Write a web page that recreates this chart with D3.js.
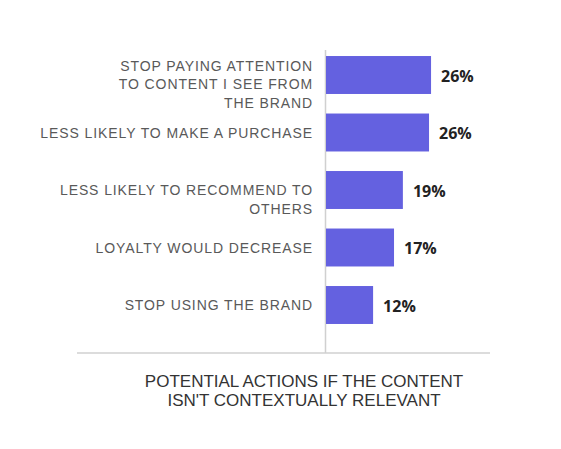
<!DOCTYPE html>
<html>
<head>
<meta charset="utf-8">
<script src="https://cdn.jsdelivr.net/npm/d3@7/dist/d3.min.js"></script>
<style>
  html, body { margin: 0; padding: 0; background: #fff; }
</style>
</head>
<body>
<div id="container"></div>
<script>
// Chart data
const categories = [
  "STOP PAYING ATTENTION\nTO CONTENT I SEE FROM\nTHE BRAND",
  "LESS LIKELY TO MAKE A PURCHASE",
  "LESS LIKELY TO RECOMMEND TO\nOTHERS",
  "LOYALTY WOULD DECREASE",
  "STOP USING THE BRAND"
];
const values = [26.1, 25.6, 19.1, 16.9, 11.7];
const valueLabels = ["26%", "26%", "19%", "17%", "12%"];
const titleLines = ["POTENTIAL ACTIONS IF THE CONTENT", "ISN'T CONTEXTUALLY RELEVANT"];

const width = 561;
const height = 449;
const barColor = "#6461e0";
const lineColor = "#d0d0d0";

const svg = d3.create("svg").attr("width", width).attr("height", height);

svg.append("rect").attr("width", width).attr("height", height).attr("fill", "#fff");

// Scales
const x = d3.scaleLinear().domain([0, 40]).range([326, 487]);
const y = d3.scaleBand()
  .domain(categories)
  .range([46.25, 333.75])
  .paddingInner(0.34)
  .paddingOuter(0.17);

// Axis lines
svg.append("line")
  .attr("x1", x(0) - 0.5).attr("x2", x(0) - 0.5)
  .attr("y1", 50).attr("y2", 353)
  .attr("stroke", lineColor).attr("stroke-width", 1.5);

svg.append("line")
  .attr("x1", 77).attr("x2", 490)
  .attr("y1", 353).attr("y2", 353)
  .attr("stroke", lineColor).attr("stroke-width", 1.5);

// Bars
svg.append("g")
  .selectAll("rect")
  .data(categories)
  .join("rect")
  .attr("x", x(0))
  .attr("y", (d) => y(d))
  .attr("width", (d, i) => x(values[i]) - x(0))
  .attr("height", y.bandwidth())
  .attr("fill", barColor);

// Value labels
svg.append("g")
  .selectAll("text")
  .data(categories)
  .join("text")
  .attr("x", (d, i) => x(values[i]) + 10)
  .attr("y", (d) => y(d) + y.bandwidth() / 2 + 1)
  .attr("dy", "0.35em")
  .attr("font-family", "'Open Sans', sans-serif")
  .attr("font-weight", 700)
  .attr("font-size", "16px")
  .attr("fill", "#222")
  .text((d, i) => valueLabels[i]);

// Category labels (multi-line)
const lineH = 18.75;
const labels = svg.append("g")
  .selectAll("text")
  .data(categories)
  .join("text")
  .attr("text-anchor", "end")
  .attr("font-family", "'Liberation Sans', Arial, sans-serif")
  .attr("font-size", "14px")
  .attr("letter-spacing", "0.9px")
  .attr("fill", "#595959")
  .attr("y", (d) => y(d) + y.bandwidth() / 2);

labels.each(function (d) {
  const lines = d.split("\n");
  const first = -Math.max(0, lines.length - 2) * lineH / 2;
  d3.select(this)
    .selectAll("tspan")
    .data(lines)
    .join("tspan")
    .attr("x", 313)
    .attr("dy", (l, i) => (i === 0 ? first + 5 : lineH))
    .text((l) => l);
});

// Title below the chart
svg.append("text")
  .attr("text-anchor", "middle")
  .attr("font-family", "'Liberation Sans', Arial, sans-serif")
  .attr("font-size", "17px")
  .attr("fill", "#333")
  .selectAll("tspan")
  .data(titleLines)
  .join("tspan")
  .attr("x", 304)
  .attr("y", (d, i) => 387 + i * 19)
  .text((d) => d);

document.getElementById("container").append(svg.node());
</script>
</body>
</html>
